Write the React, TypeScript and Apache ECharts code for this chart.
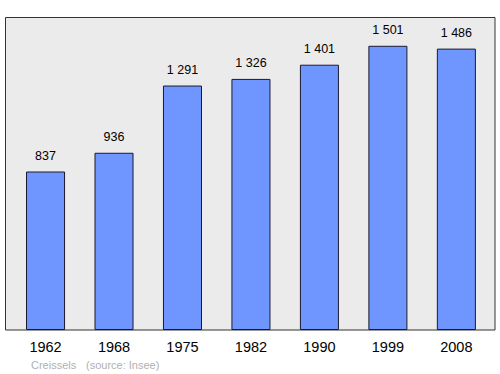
import React, { useEffect, useRef } from "react";
import * as echarts from "echarts";

const years = ["1962", "1968", "1975", "1982", "1990", "1999", "2008"];
const population = [837, 936, 1291, 1326, 1401, 1501, 1486];
const footerPlace = "Creissels";
const footerSource = "(source: Insee)";

const fmt = (v: number) => {
  const s = String(v);
  return s.length > 3 ? s.slice(0, s.length - 3) + " " + s.slice(-3) : s;
};

export default function App() {
  const ref = useRef<HTMLDivElement>(null);
  useEffect(() => {
    const chart = echarts.init(ref.current!, null, { renderer: "svg" });
    const font = "'Liberation Sans', Arial, sans-serif";
    chart.setOption({
      animation: false,
      graphic: [
        {
          type: "rect",
          z: -10,
          shape: { x: 5.5, y: 17.5, width: 489.5, height: 312.5 },
          style: { fill: "#ebebeb", stroke: "#333333", lineWidth: 1 },
          silent: true,
        },
        {
          type: "text",
          x: 31,
          y: 365,
          style: { text: footerPlace, fill: "#b0b0b0", font: "11px " + font, textVerticalAlign: "middle" },
        },
        {
          type: "text",
          x: 86,
          y: 365,
          style: { text: footerSource, fill: "#b0b0b0", font: "11px " + font, textVerticalAlign: "middle" },
        },
      ],
      grid: { left: 11.3, top: 17, width: 479.3, height: 313, containLabel: false },
      xAxis: {
        type: "category",
        data: years,
        axisLine: { show: false },
        axisTick: { show: false },
        axisLabel: { color: "#000", fontSize: 14.5, fontFamily: font, margin: 9 },
      },
      yAxis: {
        type: "value",
        min: 0,
        max: 1653,
        show: false,
        splitLine: { show: false },
      },
      series: [
        {
          type: "bar",
          data: population,
          barWidth: "57%",
          itemStyle: { color: "#6f96ff", borderColor: "#1a1a2e", borderWidth: 1 },
          label: {
            show: true,
            position: "top",
            distance: 9,
            color: "#000",
            fontSize: 12.5,
            fontFamily: font,
            formatter: (p: any) => fmt(p.value),
          },
        },
      ],
    });
    return () => chart.dispose();
  }, []);
  return <div ref={ref} style={{ width: 500, height: 374, position: "absolute", left: 0, top: 0, background: "#fff" }} />;
}
